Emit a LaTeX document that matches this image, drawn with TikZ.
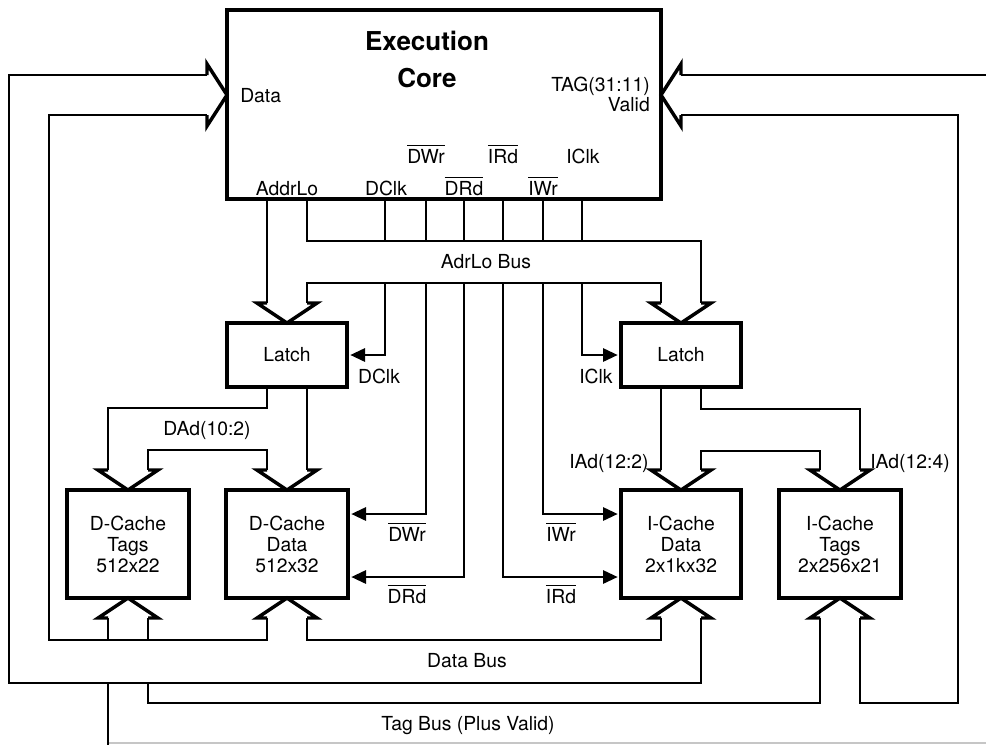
\documentclass[tikz,border=0pt]{standalone}
\usepackage{fontspec}
\setmainfont{TeX Gyre Heros}
\usetikzlibrary{arrows.meta}
\newcommand\lblfont{\fontsize{14.5}{15.75}\selectfont}
\newcommand\ovl[1]{\vbox{\hrule height 1.2pt\kern 2pt\hbox{#1}}}
\newcommand\bahd[2]{\draw[busarrow] (#1-20,#2-20) -- (#1-30,#2-20) -- (#1,#2) -- (#1+30,#2-20) -- (#1+20,#2-20);}
\newcommand\bahu[2]{\draw[busarrow] (#1-20,#2+20) -- (#1-30,#2+20) -- (#1,#2) -- (#1+30,#2+20) -- (#1+20,#2+20);}
\newcommand\bahr[2]{\draw[busarrow] (#1-20,#2-20) -- (#1-20,#2-31) -- (#1,#2) -- (#1-20,#2+31) -- (#1-20,#2+20);}
\newcommand\bahl[2]{\draw[busarrow] (#1+20,#2-20) -- (#1+20,#2-31) -- (#1,#2) -- (#1+20,#2+31) -- (#1+20,#2+20);}
\begin{document}
\begin{tikzpicture}[x=0.75pt,y=-0.75pt,
  box/.style={draw, line width=3pt, inner sep=0pt, align=center, font=\lblfont},
  wire/.style={line width=1.5pt},
  busarrow/.style={line width=2.6pt, line join=miter},
  ctl/.style={wire, shorten >=1pt, -{Triangle[length=11pt,width=10pt]}},
  lbl/.style={font=\lblfont, inner sep=0pt},
  ttl/.style={font=\fontsize{19.5}{24}\selectfont\bfseries, inner sep=0pt, anchor=base},
]
\useasboundingbox (0,0) rectangle (986,744);

% boxes
\node[box, minimum width=434*0.75pt, minimum height=189*0.75pt] (core) at (444,104.5) {};
\node[box, minimum width=120*0.75pt, minimum height=64*0.75pt] (latchD) at (287,355) {Latch};
\node[box, minimum width=120*0.75pt, minimum height=64*0.75pt] (latchI) at (681,355) {Latch};
\node[box, minimum width=122*0.75pt, minimum height=108*0.75pt] (dct) at (128,544) {D-Cache\\Tags\\512x22};
\node[box, minimum width=122*0.75pt, minimum height=108*0.75pt] (dcd) at (287,544) {D-Cache\\Data\\512x32};
\node[box, minimum width=120*0.75pt, minimum height=108*0.75pt] (icd) at (681,544) {I-Cache\\Data\\2x1kx32};
\node[box, minimum width=122*0.75pt, minimum height=108*0.75pt] (ict) at (840,544) {I-Cache\\Tags\\2x256x21};

% core texts
\node[ttl] (t1) at (427,50) {Execution};
\node[ttl] (t2) at (427,87) {Core};
\node[lbl, anchor=base west] (ldata) at (240,102) {Data};
\node[lbl, anchor=base east] (ltag) at (650,91) {TAG(31:11)};
\node[lbl, anchor=base east] (lvalid) at (650,111) {Valid};
\node[lbl, anchor=base] (laddr) at (287,195) {AddrLo};
\node[lbl, anchor=base] (sdclk) at (386,195) {DClk};
\node[lbl, anchor=base] (sdrd) at (464,195) {\ovl{DRd}};
\node[lbl, anchor=base] (siwr) at (543,195) {\ovl{IWr}};
\node[lbl, anchor=base] (sdwr) at (426,163) {\ovl{DWr}};
\node[lbl, anchor=base] (sird) at (503,163) {\ovl{IRd}};
\node[lbl, anchor=base] (siclk) at (583,163) {IClk};

% AdrLo bus
\draw[wire] (267,199) -- (267,303);
\draw[wire] (307,199) -- (307,241) -- (701,241) -- (701,303);
\draw[wire] (307,303) -- (307,283) -- (661,283) -- (661,303);
\bahd{287}{323}
\bahd{681}{323}
\node[lbl, anchor=base] (ladr) at (486,268) {AdrLo Bus};

% control signals
\foreach \x in {385,426,464,503,543,582} \draw[wire] (\x,199) -- (\x,241);
\draw[ctl] (385,283) |- (latchD.east);
\draw[ctl] (582,283) |- (latchI.west);
\draw[ctl] (426,283) |- (dcd.east |- 0,514);
\draw[ctl] (464,283) |- (dcd.east |- 0,577);
\draw[ctl] (503,283) |- (icd.west |- 0,577);
\draw[ctl] (543,283) |- (icd.west |- 0,514);
\node[lbl, anchor=base] (ldclk) at (379,383) {DClk};
\node[lbl, anchor=base] (liclk) at (596,383) {IClk};
\node[lbl, anchor=base] (ldwr) at (407,541) {\ovl{DWr}};
\node[lbl, anchor=base] (ldrd) at (407,603) {\ovl{DRd}};
\node[lbl, anchor=base] (liwr) at (561,541) {\ovl{IWr}};
\node[lbl, anchor=base] (lird) at (561,603) {\ovl{IRd}};

% D latch outputs
\draw[wire] (267,387) -- (267,408) -- (108,408) -- (108,470);
\draw[wire] (307,387) -- (307,470);
\draw[wire] (148,470) -- (148,450) -- (267,450) -- (267,470);
\bahd{128}{490}
\bahd{287}{490}
\node[lbl, anchor=base] (ldad) at (207,435) {DAd(10:2)};

% I latch outputs
\draw[wire] (661,387) -- (661,470);
\draw[wire] (701,387) -- (701,409) -- (860,409) -- (860,470);
\draw[wire] (701,470) -- (701,451) -- (820,451) -- (820,470);
\bahd{681}{490}
\bahd{840}{490}
\node[lbl, anchor=base] (liad2) at (609,468) {IAd(12:2)};
\node[lbl, anchor=base] (liad4) at (910,468) {IAd(12:4)};

% Data bus
\draw[wire] (207,75) -- (9,75) -- (9,683) -- (701,683) -- (701,618);
\draw[wire] (207,115) -- (49,115) -- (49,640) -- (267,640) -- (267,618);
\draw[wire] (307,618) -- (307,640) -- (661,640) -- (661,618);
\bahr{227}{95}
\bahu{128}{598}
\bahu{287}{598}
\bahu{681}{598}
\bahu{840}{598}
\node[lbl, anchor=base] (ldbus) at (467,667) {Data Bus};

% Tag bus
\draw[wire] (990,75) -- (681,75);
\draw[wire] (681,115) -- (958,115) -- (958,703) -- (860,703) -- (860,618);
\bahl{661}{95}
\draw[wire] (108,618) -- (108,640);
\draw[wire] (108,683) -- (108,746);
\draw[wire] (148,618) -- (148,640);
\draw[wire] (148,683) -- (148,703) -- (820,703) -- (820,618);
\draw[wire, gray!45] (109,742.5) -- (990,742.5);
\node[lbl, anchor=base] (ltbus) at (468,730) {Tag Bus (Plus Valid)};
\end{tikzpicture}
\end{document}
